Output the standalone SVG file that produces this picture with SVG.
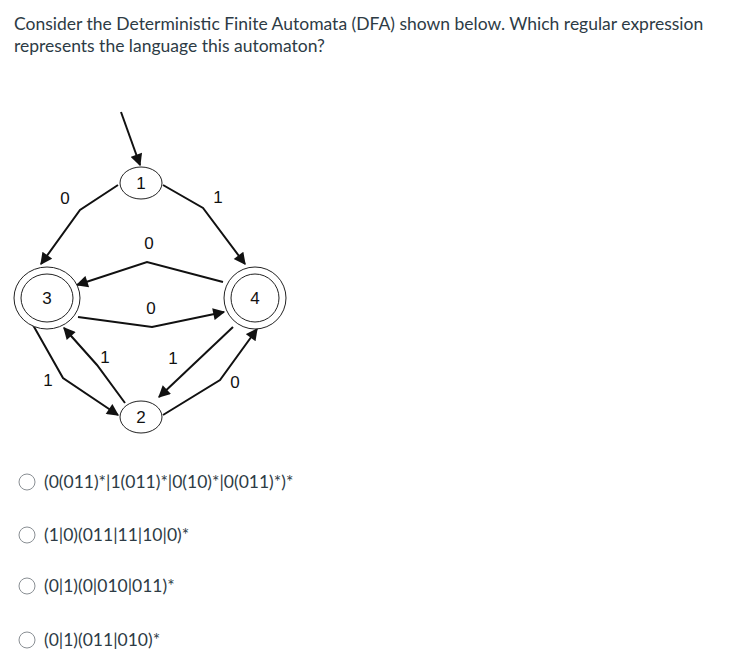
<svg xmlns="http://www.w3.org/2000/svg" width="729" height="658" viewBox="0 0 729 658">
<style>
.q{font-family:Lato,"Liberation Sans",sans-serif;font-size:17.5px;fill:#2d3b45}
.o{font-family:Lato,"Liberation Sans",sans-serif;font-size:17.5px;fill:#2d3b45}
.n{fill:#fff;stroke:#222;stroke-width:1}
.l{font-family:"Liberation Sans",Arial,sans-serif;font-size:17px;fill:#111;text-anchor:middle}
.e{fill:none;stroke:#111;stroke-width:2}
.r{fill:#fff;stroke:#8a8f94;stroke-width:1}
</style>
<defs><marker id="b" viewBox="0 0 10 10" refX="9" refY="5" markerWidth="14" markerHeight="12" orient="auto" markerUnits="userSpaceOnUse"><path d="M0,0 L10,5 L0,10 z" fill="#111"/></marker></defs>
<rect width="729" height="658" fill="#fff"/>
<text class="q" x="14" y="30">Consider the Deterministic Finite Automata (DFA) shown below. Which regular expression</text>
<text class="q" x="14" y="52">represents the language this automaton?</text>
<g id="connectors">
<path class="e" marker-end="url(#b)" d="M121,112 L140,165"/>
<path class="e" marker-end="url(#b)" d="M118,185 L80,210 L41,264"/>
<path class="e" marker-end="url(#b)" d="M163,185 L203,208 L245,264"/>
<path class="e" marker-end="url(#b)" d="M223,282 L147,262 L77,285"/>
<path class="e" marker-end="url(#b)" d="M78,317 L152,327 L224,312"/>
<path class="e" marker-end="url(#b)" d="M33,325 L63,378 L118,415"/>
<path class="e" marker-end="url(#b)" d="M125,403 L97,365 L64,328"/>
<path class="e" marker-end="url(#b)" d="M233,327 L159,397"/>
<path class="e" marker-end="url(#b)" d="M163,415 L220,380 L257,329"/>
<text class="l" x="65" y="204">0</text>
<text class="l" x="218" y="203">1</text>
<text class="l" x="149" y="249">0</text>
<text class="l" x="151" y="314">0</text>
<text class="l" x="48" y="386">1</text>
<text class="l" x="105" y="363">1</text>
<text class="l" x="173" y="364">1</text>
<text class="l" x="235" y="388">0</text>
</g>
<g id="n1"><ellipse class="n" cx="141" cy="183" rx="21" ry="16"/><text class="l" x="141" y="189">1</text></g>
<g id="n3"><ellipse class="n" cx="47" cy="298" rx="33" ry="31"/><ellipse class="n" cx="47" cy="298" rx="26" ry="24"/><text class="l" x="47" y="304">3</text></g>
<g id="n4"><ellipse class="n" cx="255" cy="298" rx="31" ry="31"/><ellipse class="n" cx="255" cy="298" rx="24" ry="24"/><text class="l" x="255" y="304">4</text></g>
<g id="n2"><ellipse class="n" cx="141" cy="417" rx="21" ry="16"/><text class="l" x="141" y="423">2</text></g>
<circle class="r" cx="27" cy="482" r="8"/><text class="o" x="44" y="488">(0(011)*|1(011)*|0(10)*|0(011)*)*</text>
<circle class="r" cx="27" cy="535" r="8"/><text class="o" x="44" y="541">(1|0)(011|11|10|0)*</text>
<circle class="r" cx="27" cy="586" r="8"/><text class="o" x="44" y="592">(0|1)(0|010|011)*</text>
<circle class="r" cx="27" cy="640" r="8"/><text class="o" x="44" y="646">(0|1)(011|010)*</text>
</svg>
